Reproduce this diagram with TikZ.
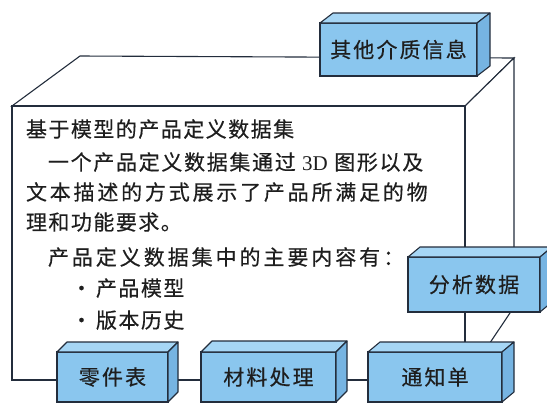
\documentclass[tikz,border=0pt]{standalone}
\usepackage{fontspec}
\setmainfont{Liberation Serif}
\newfontfamily\cjk{Noto Sans CJK SC}[FakeBold=0.4]
\usetikzlibrary{calc}
\definecolor{edge}{RGB}{35,45,60}
\definecolor{frontc}{RGB}{138,198,238}
\definecolor{topc}{RGB}{166,214,245}
\definecolor{sidec}{RGB}{118,180,226}
\definecolor{txt}{RGB}{30,30,30}
\tikzset{
  txtline/.style={text=txt, anchor=base west, inner sep=0, outer sep=0,
    font=\cjk\fontsize{21bp}{25bp}\selectfont\addfontfeature{LetterSpace=#1}},
  txtline/.default=7,
  blk/.style={draw=edge, fill=frontc, line width=1.1bp, inner sep=0, outer sep=0,
    text=txt, font=\cjk\fontsize{21bp}{25bp}\selectfont\addfontfeature{LetterSpace=10}},
  topface/.style={draw=edge, fill=topc, line width=1.1bp, line join=round},
  sideface/.style={draw=edge, fill=sidec, line width=1.1bp, line join=round},
  cubeline/.style={draw=edge, line width=1.1bp, fill=white, line join=miter}
}
\begin{document}
\begin{tikzpicture}[x=1bp,y=-1bp]
\useasboundingbox (0,0) rectangle (547,402);
\clip (0,0) rectangle (547,402);
% large cube
\filldraw[cubeline] (12,106) -- (80,56) -- (514,58) -- (465,106) -- cycle;
\filldraw[cubeline] (465,106) -- (514,58) -- (514,307) -- (465,380) -- cycle;
\filldraw[cubeline] (12,106) rectangle (465,380);
% text
\node[txtline=7] (l1) at (26,137) {基于模型的产品定义数据集};
\node[txtline=8] (l2) at (48,170) {一个产品定义数据集通过 {\rmfamily 3D} 图形以及};
\node[txtline=13.3] (l3) at (26,200) {文本描述的方式展示了产品所满足的物};
\node[txtline] (l4) at (26,230) {理和功能要求。};
\node[txtline=14] (l5) at (48,265) {产品定义数据集中的主要内容有：};
\node[txtline] (l6) at (71,296) {·\hspace{4bp}产品模型};
\node[txtline] (l7) at (71,328) {·\hspace{4bp}版本历史};
% blocks
\node[blk, minimum width=157bp, minimum height=53bp] (other) at (398.5,49.5) {其他介质信息};
\node[blk, minimum width=132bp, minimum height=55bp] (analysis) at (474,284.5) {分析数据};
\node[blk, minimum width=111bp, minimum height=50bp] (parts) at (112.5,377) {零件表};
\node[blk, minimum width=135bp, minimum height=50bp] (material) at (268.5,377) {材料处理};
\node[blk, minimum width=134bp, minimum height=50bp] (notice) at (435,377) {通知单};
\foreach \n/\dx/\dy in {other/13/10, analysis/12/10, parts/10/10, material/11/11, notice/12/10} {
  \filldraw[topface] (\n.north west) -- ++(\dx,-\dy) -- ($(\n.north east)+(\dx,-\dy)$) -- (\n.north east) -- cycle;
  \filldraw[sideface] (\n.north east) -- ++(\dx,-\dy) -- ($(\n.south east)+(\dx,-\dy)$) -- (\n.south east) -- cycle;
}
\end{tikzpicture}
\end{document}
